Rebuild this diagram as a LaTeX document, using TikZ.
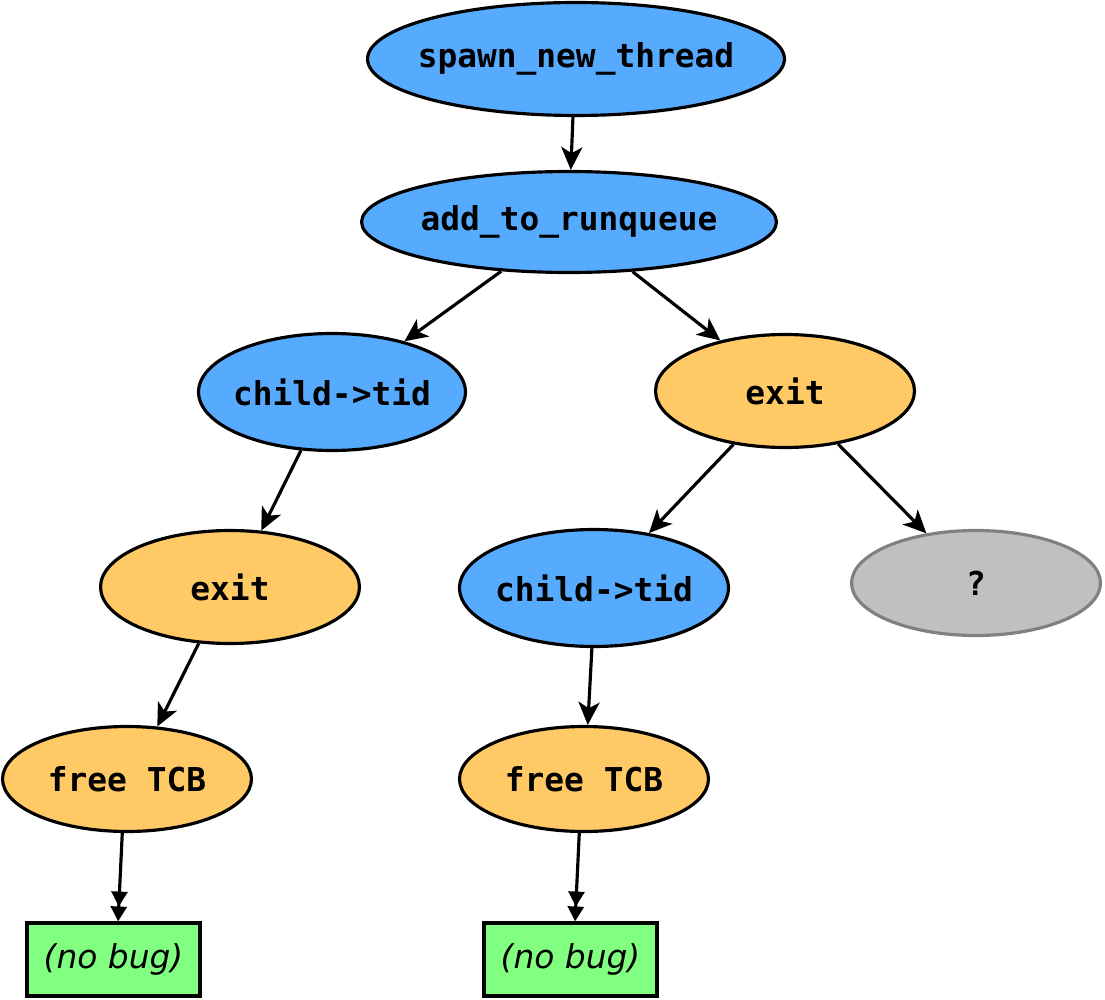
\documentclass[tikz,border=0pt]{standalone}
\usepackage{fontspec}
\setmonofont{DejaVu Sans Mono}
\setsansfont{DejaVu Sans}
\usetikzlibrary{shapes.geometric,arrows.meta}
\definecolor{nblue}{HTML}{56ABFF}
\definecolor{norange}{HTML}{FFC966}
\definecolor{ngreen}{HTML}{80FF80}
\definecolor{ngrey}{HTML}{C0C0C0}
\definecolor{ngreyline}{HTML}{808080}
\newcommand\ntext[1]{\makebox[0pt]{#1}}
\tikzset{
  base/.style={ellipse, draw=black, line width=1.8pt, inner sep=0pt,
    font=\fontsize{18.7}{22}\selectfont\ttfamily\bfseries},
  bluenode/.style={base, fill=nblue},
  orangenode/.style={base, fill=norange},
  greynode/.style={base, fill=ngrey, draw=ngreyline},
  bugbox/.style={rectangle, draw=black, line width=1.8pt, fill=ngreen, inner sep=0pt,
    minimum width=3.46cm, minimum height=1.46cm,
    font=\fontsize{18.7}{22}\selectfont\sffamily\itshape},
  edge/.style={line width=1.8pt, -{Stealth[length=13pt,width=12pt,inset=3.5pt]}},
  dedge/.style={line width=1.8pt, -{Triangle[length=8.5pt,width=9pt]Triangle[length=8.5pt,width=9pt]}}
}
\begin{document}
\begin{tikzpicture}[x=0.02cm,y=-0.02cm]
\useasboundingbox (0,0) rectangle (1105,1000);
\node[bluenode, minimum width=8.34cm, minimum height=2.26cm] (spawn) at (576,59) {\ntext{spawn\_new\_thread}};
\node[bluenode, minimum width=8.30cm, minimum height=2.02cm] (add) at (569,222) {\ntext{add\_to\_runqueue}};
\node[bluenode, minimum width=5.34cm, minimum height=2.34cm] (childL) at (332,392) {\ntext{child->tid}};
\node[orangenode, minimum width=5.18cm, minimum height=2.26cm] (exitR) at (785,391) {\ntext{exit}};
\node[orangenode, minimum width=5.18cm, minimum height=2.26cm] (exitL) at (230,587) {\ntext{exit}};
\node[bluenode, minimum width=5.38cm, minimum height=2.34cm] (childM) at (594,588) {\ntext{child->tid}};
\node[greynode, minimum width=4.98cm, minimum height=2.10cm] (q) at (976,583) {\ntext{?}};
\node[orangenode, minimum width=4.98cm, minimum height=2.10cm] (freeL) at (127,779) {\ntext{free TCB}};
\node[orangenode, minimum width=4.98cm, minimum height=2.10cm] (freeM) at (584,779) {\ntext{free TCB}};
\node[bugbox] (nbL) at (113.5,959.5) {(no bug)};
\node[bugbox] (nbM) at (570.5,959.5) {(no bug)};

\draw[edge] (spawn.-93) -- (add.88);
\draw[edge] (add.216) -- (childL.35);
\draw[edge] (add.-38) -- (exitR.142.7);
\draw[edge] (childL.242.7) -- (exitL.61.9);
\draw[edge] (exitL.241.9) -- (freeL.60.9);
\draw[edge] (exitR.226.1) -- (childM.45);
\draw[edge] (exitR.-45.5) -- (q.135.6);
\draw[edge] (childM.268) -- (freeM.86.9);
\draw[dedge] (freeL.265.8) -- ([xshift=2.6pt]nbL.north);
\draw[dedge] (freeM.265.8) -- ([xshift=2.6pt]nbM.north);
\end{tikzpicture}
\end{document}
